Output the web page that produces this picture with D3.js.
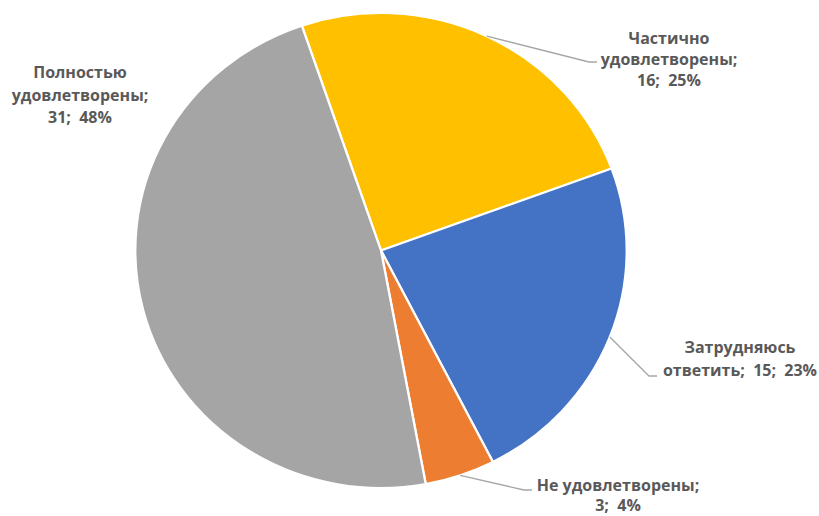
<!DOCTYPE html>
<html><head><meta charset="utf-8">
<script src="https://cdn.jsdelivr.net/npm/d3@7"></script>
<style>body{margin:0;background:#fff}text{font-family:"Open Sans",sans-serif;font-weight:bold;font-size:16px;fill:#595959}</style>
</head><body><svg id="c" width="819" height="516"></svg>
<script>
const categories = ["Частично удовлетворены", "Затрудняюсь ответить", "Не удовлетворены", "Полностью удовлетворены"];
const values = [16, 15, 3, 31];
const percents = ["25%", "23%", "4%", "48%"];
const colors = ["#FFC000", "#4472C4", "#ED7D31", "#A5A5A5"];
const labelLines = [
  ["Частично", "удовлетворены;", "16;  25%"],
  ["Затрудняюсь", "ответить;  15;  23%"],
  ["Не удовлетворены;", "3;  4%"],
  ["Полностью", "удовлетворены;", "31;  48%"]
];

const cx = 381, cy = 250.5, r = 237.5, sx = 245.7 / 237.5;
const startDeg = -18.8;
const svg = d3.select("#c");
const pie = d3.pie().sort(null).value(d => d)
  .startAngle(startDeg * Math.PI / 180).endAngle((startDeg + 360) * Math.PI / 180);
const arcs = pie(values);
const arc = d3.arc().innerRadius(0).outerRadius(r);
const g = svg.append("g").attr("transform", `translate(${cx},${cy}) scale(${sx},1)`);
g.selectAll("path").data(arcs).join("path")
  .attr("d", arc).attr("fill", (d, i) => colors[i])
  .attr("stroke", "#fff").attr("stroke-width", 2.2).attr("stroke-linejoin", "round");

// label layout (positions of label blocks)
const labelPos = [
  {x: 669, y: 44, lh: 21, lead: [597, 62]},
  {x: 740, y: 353, lh: 23, lead: [657, 376]},
  {x: 618, y: 491, lh: 20, lead: [532, 490]},
  {x: 80, y: 78, lh: 22.5, lead: null}
];
arcs.forEach((a, i) => {
  const p = labelPos[i];
  const m = (a.startAngle + a.endAngle) / 2;
  if (p.lead) {
    const x0 = cx + Math.sin(m) * r * sx, y0 = cy - Math.cos(m) * r;
    const elbowX = p.lead[0] - 8;
    svg.append("polyline")
      .attr("points", `${x0},${y0} ${elbowX},${p.lead[1]} ${p.lead[0]},${p.lead[1]}`)
      .attr("fill", "none").attr("stroke", "#A6A6A6").attr("stroke-width", 1.3);
  }
  const t = svg.append("text").attr("text-anchor", "middle").style("white-space", "pre");
  labelLines[i].forEach((ln, j) => {
    t.append("tspan").attr("x", p.x).attr("y", p.y + j * p.lh).text(ln);
  });
});
</script></body></html>
